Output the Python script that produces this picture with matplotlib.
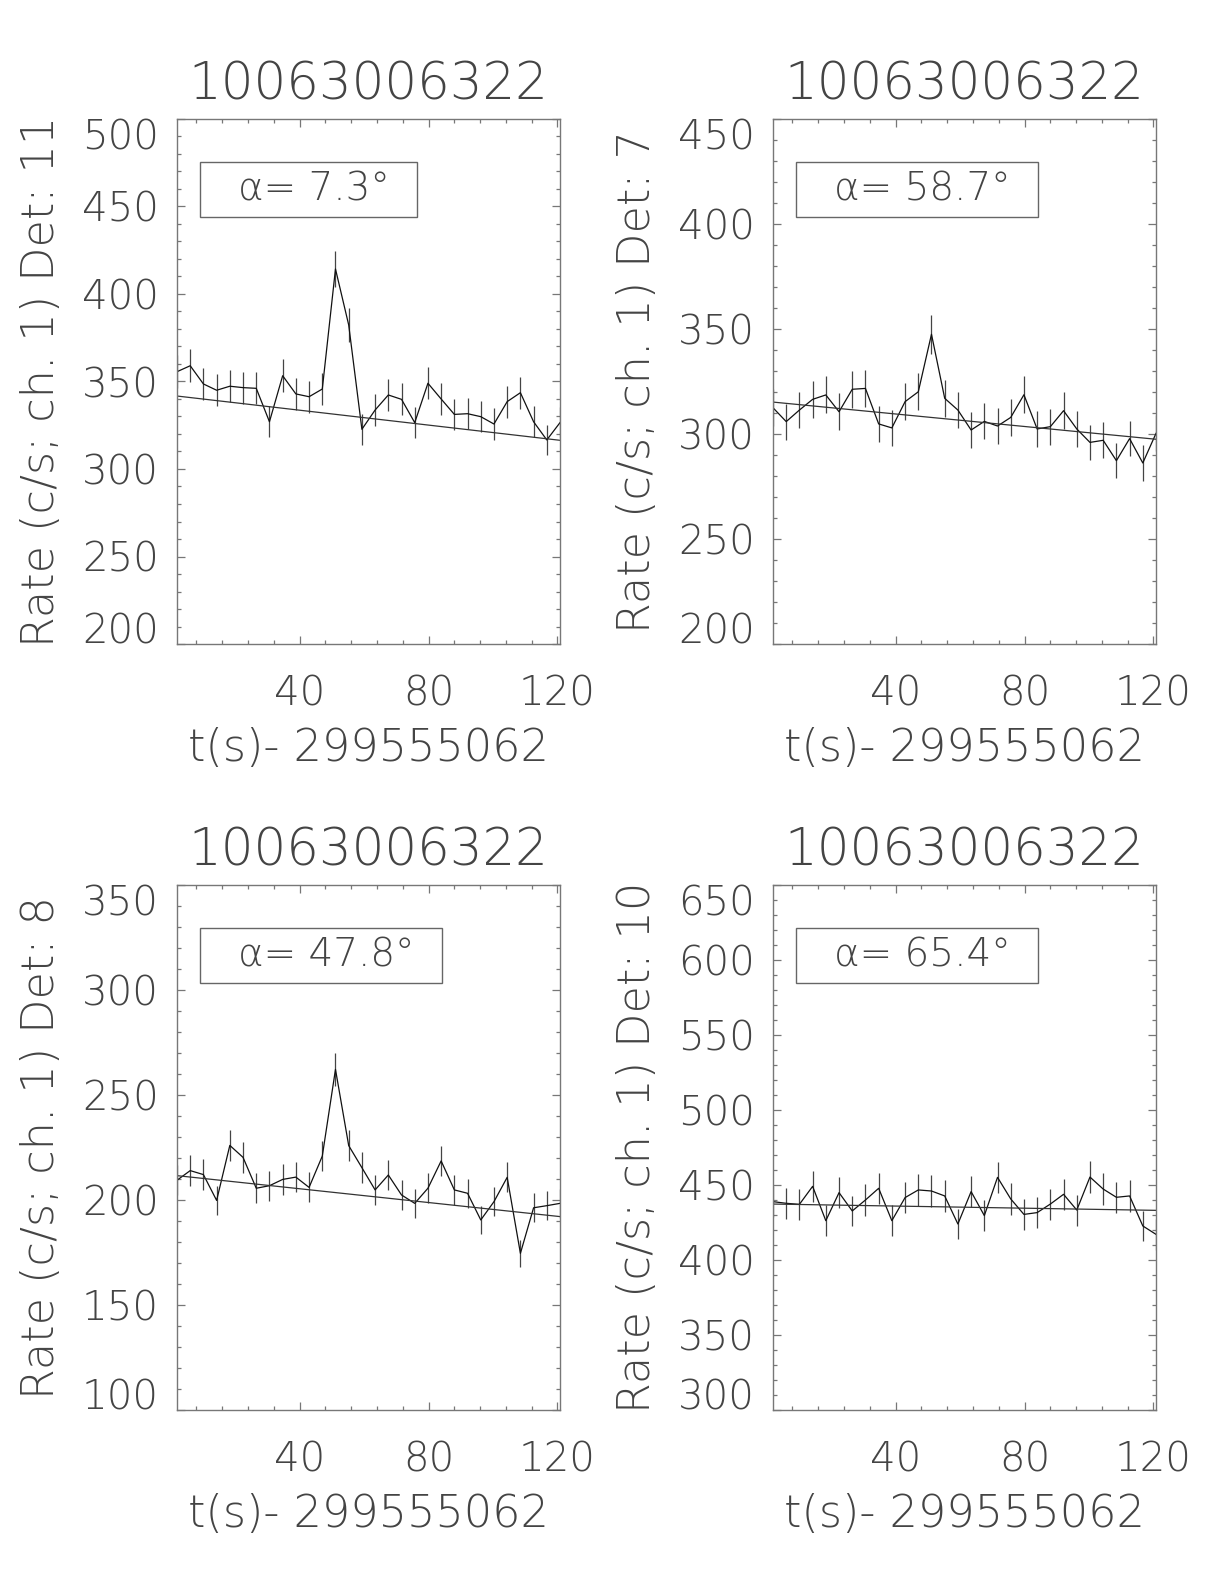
import numpy as np
import matplotlib
matplotlib.use('Agg')
import matplotlib.pyplot as plt
from matplotlib import font_manager as fm
from matplotlib.ticker import MultipleLocator
from matplotlib.patches import Rectangle

# time bins (s) relative to 299555062
t = [2.00, 6.10, 10.19, 14.29, 18.38, 22.48, 26.58, 30.67, 34.77, 38.86,
     42.96, 47.06, 51.15, 55.25, 59.34, 63.44, 67.54, 71.63, 75.73, 79.82,
     83.92, 88.02, 92.11, 96.21, 100.30, 104.40, 108.50, 112.59, 116.69, 120.78]

rate_d11 = [355.6, 359.0, 348.6, 345.0, 347.3, 346.5, 346.1, 327.0, 353.3, 342.9,
            341.3, 345.7, 414.3, 382.3, 322.7, 333.7, 342.3, 339.8, 326.5, 349.0,
            340.0, 331.2, 331.6, 329.9, 325.7, 338.5, 343.6, 327.0, 316.6, 326.5]
err_d11 = [9.3, 9.4, 9.2, 9.2, 9.2, 9.2, 9.2, 8.9, 9.3, 9.1,
           9.1, 9.2, 10.1, 9.7, 8.9, 9.0, 9.1, 9.1, 8.9, 9.2,
           9.1, 9.0, 9.0, 9.0, 8.9, 9.1, 9.2, 8.9, 8.8, 8.9]
fit_d11 = [341.7, 316.4]

rate_d7 = [312.5, 305.9, 311.4, 316.5, 318.6, 310.6, 321.3, 321.7, 304.8, 302.9,
           315.4, 320.1, 347.5, 317.0, 311.4, 301.9, 306.0, 303.8, 307.9, 318.7,
           302.4, 303.5, 311.1, 302.4, 296.0, 297.0, 287.3, 297.8, 286.2, 300.3]
err_d7 = [8.7, 8.6, 8.7, 8.8, 8.8, 8.7, 8.9, 8.9, 8.6, 8.6,
          8.8, 8.8, 9.2, 8.8, 8.7, 8.6, 8.6, 8.6, 8.7, 8.8,
          8.6, 8.6, 8.7, 8.6, 8.5, 8.5, 8.4, 8.5, 8.4, 8.6]
fit_d7 = [315.2, 297.5]

rate_d8 = [209.4, 214.0, 212.1, 199.8, 226.0, 220.3, 205.6, 206.8, 209.8, 210.9,
           206.0, 220.9, 262.2, 225.9, 215.4, 204.8, 211.9, 202.4, 198.4, 205.6,
           218.6, 204.8, 203.2, 190.5, 199.2, 210.8, 174.6, 196.3, 197.3, 198.4]
err_d8 = [7.2, 7.2, 7.2, 7.0, 7.4, 7.3, 7.1, 7.1, 7.2, 7.2,
          7.1, 7.3, 8.0, 7.4, 7.3, 7.1, 7.2, 7.0, 7.0, 7.1,
          7.3, 7.1, 7.0, 6.8, 7.0, 7.2, 6.5, 6.9, 6.9, 7.0]
fit_d8 = [211.6, 192.1]

rate_d10 = [438.9, 437.8, 437.1, 449.1, 426.2, 444.9, 432.7, 440.0, 447.8, 426.2,
            441.6, 446.7, 446.0, 442.7, 424.0, 445.6, 429.6, 455.1, 440.7, 430.4,
            431.6, 437.3, 443.8, 433.3, 455.3, 447.3, 441.8, 442.7, 422.7, 417.1]
err_d10 = [10.4, 10.3, 10.3, 10.5, 10.2, 10.4, 10.3, 10.4, 10.5, 10.2,
           10.4, 10.4, 10.4, 10.4, 10.2, 10.4, 10.2, 10.5, 10.4, 10.3,
           10.3, 10.3, 10.4, 10.3, 10.5, 10.5, 10.4, 10.4, 10.2, 10.1]
fit_d10 = [437.3, 433.1]

detectors = [11, 7, 8, 10]
alphas = [7.3, 58.7, 47.8, 65.4]
y_ranges = [(200, 500), (200, 450), (100, 350), (300, 650)]
burst_id = '10063006322'
t_ref = 299555062


def pick_thin_font():
    # thin stroke font to mimic the IDL vector font, if one is installed
    for name in ['DejaVu Sans', 'Lato', 'Roboto', 'Open Sans', 'Noto Sans']:
        for f in fm.fontManager.ttflist:
            w = f.weight
            if not isinstance(w, (int, float)):
                w = fm.weight_dict.get(w, 400)
            if f.name == name and f.style == 'normal' and w <= 300:
                return name, w
    return 'DejaVu Sans', 'normal'


family, weight = pick_thin_font()
plt.rcParams['font.family'] = family
plt.rcParams['font.weight'] = weight
plt.rcParams['axes.titleweight'] = weight
plt.rcParams['axes.labelweight'] = weight

TXT = '#444444'
AXC = '#777777'
W, H = 1224, 1584
panel_px = [(177, 119), (773, 119), (177, 885), (773, 885)]
aw, ah = 383, 525

fig = plt.figure(figsize=(W / 100, H / 100), dpi=100)
fig.patch.set_facecolor('white')

rates = [rate_d11, rate_d7, rate_d8, rate_d10]
errs = [err_d11, err_d7, err_d8, err_d10]
fits = [fit_d11, fit_d7, fit_d8, fit_d10]

axes = []
for k in range(4):
    px, py = panel_px[k]
    ax = fig.add_axes([px / W, 1 - (py + ah) / H, aw / W, ah / H])
    axes.append(ax)

    ax.errorbar(t, rates[k], yerr=errs[k], fmt='none', ecolor='#444444',
                elinewidth=0.9, capsize=0)
    ax.plot(t, rates[k], color='#111111', lw=0.9)
    ax.plot([t[0], t[-1]], fits[k], color='#333333', lw=0.9)

    ylo, yhi = y_ranges[k]
    ax.set_xlim(t[0], t[-1])
    ax.set_ylim(ylo, yhi)
    ax.set_xticks([40, 80, 120])
    ax.xaxis.set_minor_locator(MultipleLocator(8))
    ax.set_yticks(np.arange(ylo, yhi + 1, 50))
    ax.yaxis.set_minor_locator(MultipleLocator(10))

    ax.tick_params(which='both', direction='in', top=True, right=True,
                   color=AXC, labelcolor=TXT, labelsize=29, width=0.9)
    ax.tick_params(which='major', length=6)
    ax.tick_params(which='minor', length=3)
    ax.tick_params(axis='x', pad=22)
    ax.tick_params(axis='y', pad=13)
    for s in ax.spines.values():
        s.set_color(AXC)
        s.set_linewidth(1.0)

    ylabs = ax.get_yticklabels()
    ylabs[0].set_va('baseline')
    ylabs[-1].set_va('top')

    ax.set_title(burst_id, fontsize=37, color=TXT, pad=14)
    ax.set_xlabel(f't(s)- {t_ref}', fontsize=32, color=TXT, labelpad=10)
    ax.set_ylabel(f'Rate (c/s; ch. 1) Det: {detectors[k]}', fontsize=32,
                  color=TXT, labelpad=14)

    ax.text(0.16, 0.866, f'\u03b1= {alphas[k]:.1f}\u00b0', transform=ax.transAxes,
            ha='left', va='center', fontsize=28, color=TXT)

# boxes around the alpha labels, sized to the text
renderer = fig.canvas.get_renderer()
for ax in axes:
    txt = ax.texts[0]
    bb = txt.get_window_extent(renderer).transformed(ax.transAxes.inverted())
    x0 = 0.06
    x1 = bb.x1 + 27 / aw
    ax.add_patch(Rectangle((x0, 0.813), x1 - x0, 0.105, transform=ax.transAxes,
                           fill=False, ec='#666666', lw=1.0))

fig.savefig('out.png', dpi=100)
